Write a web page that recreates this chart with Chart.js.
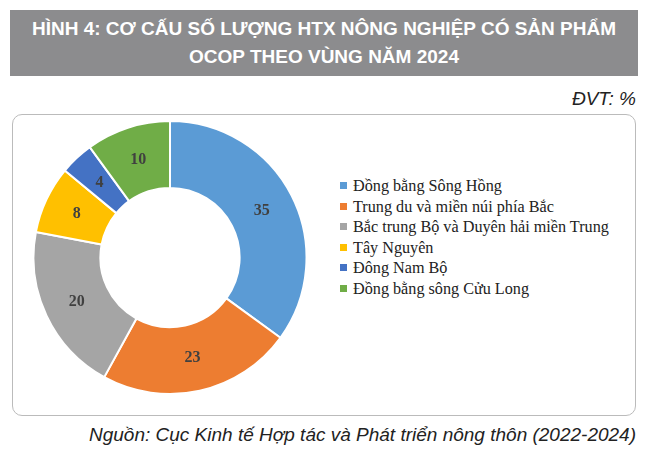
<!DOCTYPE html>
<html><head><meta charset="utf-8">
<script src="https://cdn.jsdelivr.net/npm/chart.js@4/dist/chart.umd.min.js"></script>
<style>
body{margin:0;width:648px;height:466px;background:#fff;position:relative;font-family:"Liberation Sans",Arial,sans-serif;overflow:hidden}
#title{position:absolute;left:10px;top:10px;width:628px;height:66px;background:#8c8c8e;color:#fff;font-weight:bold;font-size:19px;text-align:center;line-height:28px;padding-top:5px;box-sizing:border-box}
#dvt{position:absolute;right:12px;top:88px;font-style:italic;font-size:19px;color:#222}
#box{position:absolute;left:12px;top:114px;width:624px;height:302px;border:1px solid #bbb;border-radius:10px;box-sizing:border-box}
#cw{position:absolute;left:30px;top:120px;width:280px;height:275px}
#legend{position:absolute;left:340px;top:176px;font-family:"Liberation Serif","Times New Roman",serif;font-size:16.2px;color:#222;line-height:20.5px}
#legend span{display:inline-block;width:7px;height:7px;margin-right:6px;vertical-align:2px}
#src{position:absolute;right:12px;top:424px;font-style:italic;font-size:19px;color:#222}
</style></head><body>
<div id="title">HÌNH 4: CƠ CẤU SỐ LƯỢNG HTX NÔNG NGHIỆP CÓ SẢN PHẨM<br>OCOP THEO VÙNG NĂM 2024</div>
<div id="dvt">ĐVT: %</div>
<div id="box"></div>
<div id="cw"><canvas id="c"></canvas></div>
<div id="legend"></div>
<div id="src">Nguồn: Cục Kinh tế Hợp tác và Phát triển nông thôn (2022-2024)</div>
<script>
const categories=["Đồng bằng Sông Hồng","Trung du và miền núi phía Bắc","Bắc trung Bộ và Duyên hải miền Trung","Tây Nguyên","Đông Nam Bộ","Đồng bằng sông Cửu Long"];
const values=[35,23,20,8,4,10];
const colors=["#5B9BD5","#ED7D31","#A5A5A5","#FFC000","#4472C4","#70AD47"];
document.getElementById('legend').innerHTML=categories.map((c,i)=>`<div><span style="background:${colors[i]}"></span>${c}</div>`).join('');
const labelsPlugin={id:'lbl',afterDatasetsDraw(chart){const ctx=chart.ctx;ctx.save();ctx.font='bold 16px "Liberation Serif",serif';ctx.fillStyle='#404040';ctx.textAlign='center';ctx.textBaseline='middle';
chart.getDatasetMeta(0).data.forEach((a,i)=>{const p=a.tooltipPosition();ctx.fillText(values[i],p.x,p.y);});ctx.restore();}};
new Chart(document.getElementById('c'),{type:'doughnut',data:{labels:categories,datasets:[{data:values,backgroundColor:colors,borderColor:'#fff',borderWidth:2}]},
options:{responsive:true,maintainAspectRatio:false,animation:false,cutout:'51%',layout:{padding:0},plugins:{legend:{display:false},tooltip:{enabled:false}}},plugins:[labelsPlugin]});
</script></body></html>
